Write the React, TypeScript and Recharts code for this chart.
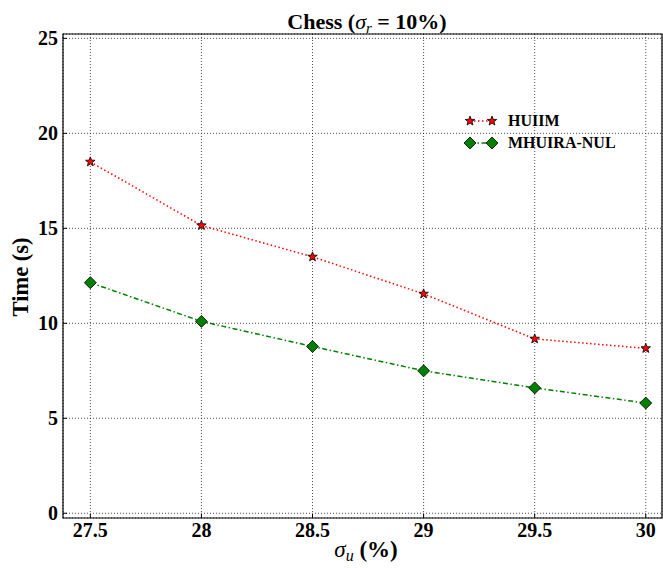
import {
  LineChart,
  Line,
  XAxis,
  YAxis,
  CartesianGrid,
  Legend,
  Label,
  ReferenceArea,
} from 'recharts';

const sigmaU = [27.5, 28, 28.5, 29, 29.5, 30];
const huiimTimes = [18.5, 15.15, 13.5, 11.55, 9.18, 8.68];
const mhuiraTimes = [12.14, 10.1, 8.78, 7.5, 6.6, 5.8];
const xTicks = [27.5, 28, 28.5, 29, 29.5, 30];
const yTicks = [0, 5, 10, 15, 20, 25];
const seriesNames = ['HUIIM', 'MHUIRA-NUL'];

const X_DOMAIN: [number, number] = [27.377, 30.073];
const Y_DOMAIN: [number, number] = [-0.25, 25.23];

const FONT = '"Liberation Serif", "Times New Roman", serif';
const RED = '#ff0000';
const GREEN = '#008000';

const data = sigmaU.map((x, i) => ({
  x,
  huiim: huiimTimes[i],
  mhuira: mhuiraTimes[i],
}));

function starPoints(cx: number, cy: number, r: number) {
  const pts: string[] = [];
  for (let i = 0; i < 10; i++) {
    const rad = i % 2 === 0 ? r : r * 0.42;
    const a = -Math.PI / 2 + (i * Math.PI) / 5;
    pts.push(`${cx + rad * Math.cos(a)},${cy + rad * Math.sin(a)}`);
  }
  return pts.join(' ');
}

function diamondPoints(cx: number, cy: number, r: number) {
  return `${cx},${cy - r} ${cx + r},${cy} ${cx},${cy + r} ${cx - r},${cy}`;
}

const StarDot = (props: any) => {
  const { cx, cy, index } = props;
  if (cx == null || cy == null) return <g key={`s-${index}`} />;
  return (
    <polygon
      key={`s-${index}`}
      points={starPoints(cx, cy, 5)}
      fill={RED}
      stroke="#000"
      strokeWidth={0.8}
    />
  );
};

const DiamondDot = (props: any) => {
  const { cx, cy, index } = props;
  if (cx == null || cy == null) return <g key={`d-${index}`} />;
  return (
    <polygon
      key={`d-${index}`}
      points={diamondPoints(cx, cy, 6)}
      fill={GREEN}
      stroke="#000"
      strokeWidth={0.8}
    />
  );
};

const LegendContent = () => (
  <div style={{ fontFamily: FONT, fontWeight: 'bold', fontSize: 16, color: '#000' }}>
    <div style={{ display: 'flex', alignItems: 'center', height: 22 }}>
      <svg width={46} height={16}>
        <line x1={8} y1={8} x2={30} y2={8} stroke={RED} strokeWidth={1.5} strokeDasharray="1.5 2.5" />
        <polygon points={starPoints(8, 8, 5)} fill={RED} stroke="#000" strokeWidth={0.8} />
        <polygon points={starPoints(30, 8, 5)} fill={RED} stroke="#000" strokeWidth={0.8} />
      </svg>
      <span>{seriesNames[0]}</span>
    </div>
    <div style={{ display: 'flex', alignItems: 'center', height: 22 }}>
      <svg width={46} height={16}>
        <line x1={8} y1={8} x2={30} y2={8} stroke={GREEN} strokeWidth={1.5} strokeDasharray="5 2.5 1.5 2.5" />
        <polygon points={diamondPoints(8, 8, 6)} fill={GREEN} stroke="#000" strokeWidth={0.8} />
        <polygon points={diamondPoints(30, 8, 6)} fill={GREEN} stroke="#000" strokeWidth={0.8} />
      </svg>
      <span>{seriesNames[1]}</span>
    </div>
  </div>
);

export default function App() {
  return (
    <div style={{ position: 'absolute', left: 0, top: 0, width: 663, height: 568, background: '#fff' }}>
      <LineChart
        width={663}
        height={568}
        data={data}
        margin={{ top: 34, right: 1, bottom: 0, left: 0 }}
      >
        <CartesianGrid stroke="#000" strokeDasharray="1 2" strokeWidth={0.7} />
        <XAxis
          dataKey="x"
          type="number"
          domain={X_DOMAIN}
          ticks={xTicks}
          allowDataOverflow
          height={50}
          tickSize={-4}
          tickMargin={9}
          tickLine={{ stroke: '#000' }}
          axisLine={false}
          tick={{ fill: '#000', fontSize: 20, fontWeight: 'bold', fontFamily: FONT }}
        >
          <Label
            content={() => (
              <text x={366} y={557} textAnchor="middle" fontFamily={FONT} fontSize={23} fill="#000">
                <tspan fontStyle="italic">σ</tspan>
                <tspan fontStyle="italic" fontSize={16} dy={4}>u</tspan>
                <tspan fontWeight="bold" dy={-4}> (%)</tspan>
              </text>
            )}
          />
        </XAxis>
        <YAxis
          type="number"
          domain={Y_DOMAIN}
          ticks={yTicks}
          allowDataOverflow
          width={63}
          tickSize={-4}
          tickMargin={9}
          tickLine={{ stroke: '#000' }}
          axisLine={false}
          tick={{ fill: '#000', fontSize: 20, fontWeight: 'bold', fontFamily: FONT }}
        >
          <Label
            content={() => (
              <text
                x={28}
                y={277}
                transform="rotate(-90 28 277)"
                textAnchor="middle"
                fontFamily={FONT}
                fontSize={22.5}
                fontWeight="bold"
                fill="#000"
              >
                Time (s)
              </text>
            )}
          />
        </YAxis>
        <ReferenceArea
          x1={X_DOMAIN[0]}
          x2={X_DOMAIN[1]}
          y1={Y_DOMAIN[0]}
          y2={Y_DOMAIN[1]}
          fill="none"
          stroke="#000"
          strokeWidth={1.2}
          ifOverflow="visible"
        />
        <Line
          dataKey="huiim"
          name={seriesNames[0]}
          stroke={RED}
          strokeWidth={1.5}
          strokeDasharray="1.5 2.5"
          dot={StarDot}
          activeDot={false}
          isAnimationActive={false}
        />
        <Line
          dataKey="mhuira"
          name={seriesNames[1]}
          stroke={GREEN}
          strokeWidth={1.5}
          strokeDasharray="5 2.5 1.5 2.5"
          dot={DiamondDot}
          activeDot={false}
          isAnimationActive={false}
        />
        <Legend
          layout="vertical"
          align="center"
          verticalAlign="middle"
          content={LegendContent}
          wrapperStyle={{ position: 'absolute', left: 462, top: 110, width: 'auto', height: 'auto' }}
        />
      </LineChart>
      <svg
        width={663}
        height={40}
        style={{ position: 'absolute', left: 0, top: 0, pointerEvents: 'none' }}
      >
        <text x={367} y={29} textAnchor="middle" fontFamily={FONT} fontSize={22} fill="#000">
          <tspan fontWeight="bold">Chess (</tspan>
          <tspan fontStyle="italic">σ</tspan>
          <tspan fontStyle="italic" fontSize={15} dy={4}>r</tspan>
          <tspan fontWeight="bold" dy={-4}> = 10%)</tspan>
        </text>
      </svg>
    </div>
  );
}
